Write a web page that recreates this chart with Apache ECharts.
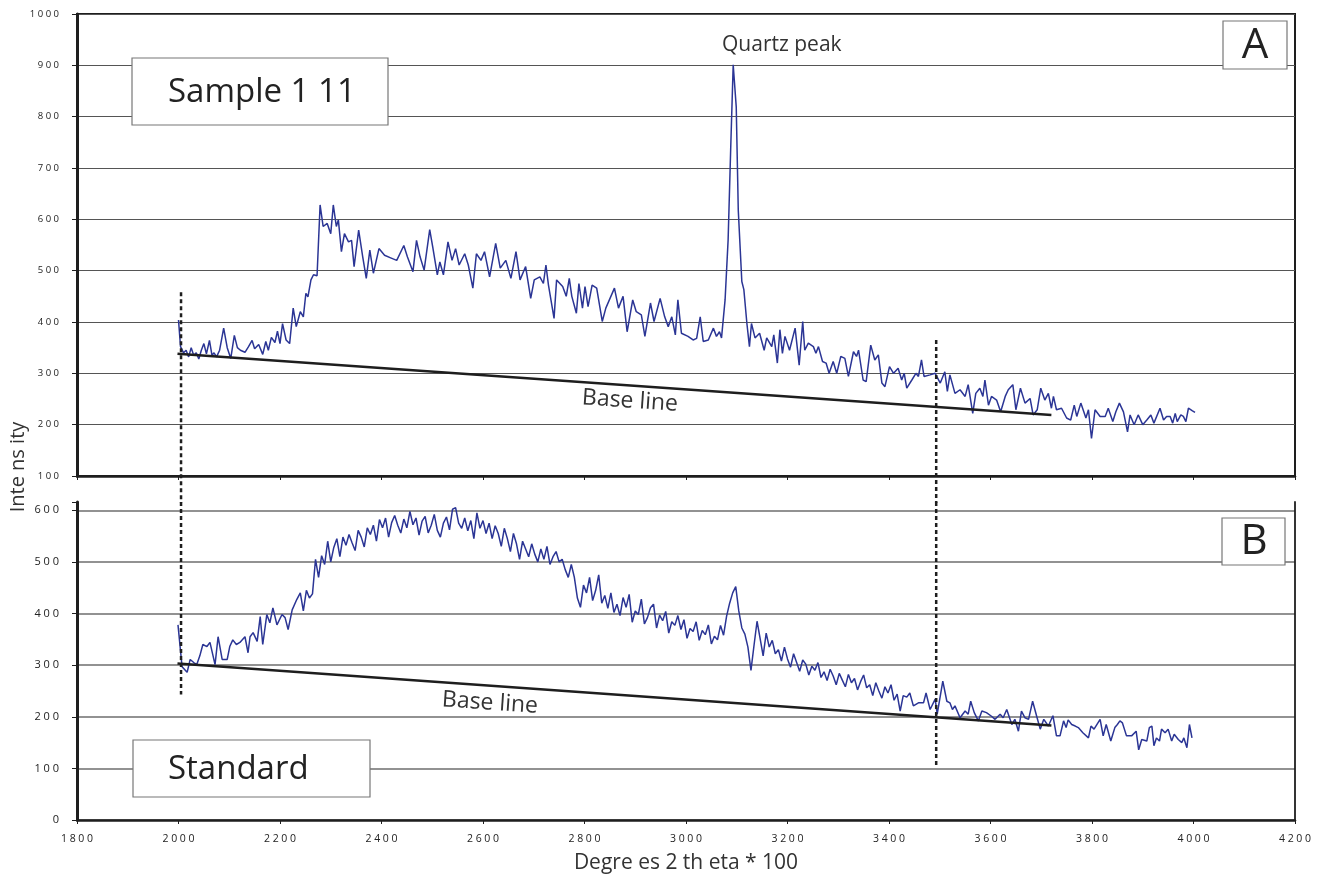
<!DOCTYPE html>
<html><head><meta charset="utf-8">
<script src="https://cdn.jsdelivr.net/npm/echarts@6/dist/echarts.min.js"></script>
<style>html,body{margin:0;padding:0;background:#fff}#c{width:1320px;height:875px}</style>
</head><body><div id="c"></div><script>
// ---- Data ----
const sampleX = [2000,2004,2010,2015,2020,2025,2030,2035,2040,2045,2050,2055,2061,2066,2070,2075,2081,2089,2096,2103,2110,2116,2122,2131,2138,2145,2150,2158,2166,2172,2177,2183,2190,2195,2200,2205,2212,2219,2226,2232,2240,2246,2251,2255,2261,2266,2273,2279,2285,2293,2300,2305,2311,2315,2321,2327,2335,2341,2346,2355,2363,2370,2377,2384,2395,2406,2418,2430,2444,2451,2462,2469,2476,2484,2495,2501,2510,2515,2522,2531,2539,2546,2553,2564,2571,2580,2587,2596,2603,2613,2625,2634,2645,2655,2665,2673,2684,2694,2701,2712,2719,2724,2729,2740,2745,2757,2764,2770,2775,2784,2789,2796,2801,2807,2815,2824,2835,2842,2859,2867,2876,2884,2895,2902,2912,2919,2930,2937,2949,2958,2965,2972,2979,2984,2991,3004,3014,3021,3028,3034,3044,3054,3060,3066,3070,3077,3083,3088,3093,3099,3103,3110,3114,3120,3125,3129,3136,3145,3154,3159,3169,3173,3180,3185,3190,3195,3204,3215,3223,3230,3234,3241,3251,3256,3261,3269,3276,3282,3290,3297,3305,3313,3320,3330,3336,3340,3349,3355,3364,3372,3379,3386,3392,3401,3409,3418,3425,3430,3435,3445,3453,3458,3464,3469,3481,3491,3501,3510,3515,3520,3530,3540,3550,3556,3565,3571,3579,3585,3589,3596,3602,3612,3620,3629,3635,3644,3650,3659,3668,3678,3684,3692,3699,3707,3714,3720,3724,3730,3740,3750,3758,3765,3770,3778,3788,3793,3799,3806,3816,3826,3832,3841,3847,3854,3862,3870,3875,3883,3891,3900,3908,3916,3922,3934,3941,3947,3954,3959,3964,3968,3975,3980,3985,3990,3998,4003];
const sampleY = [404,352,340,345,332,350,335,340,328,345,358,338,364,335,340,332,345,388,350,329,374,350,345,341,352,364,348,356,337,362,345,370,360,382,358,397,365,358,427,391,420,410,456,449,482,492,490,628,586,592,572,628,586,599,537,572,556,559,508,579,527,485,540,495,543,530,525,520,549,527,498,559,527,501,580,546,492,517,492,556,520,543,511,533,511,466,533,520,537,488,553,505,520,485,537,482,508,446,482,488,475,511,472,407,482,469,450,485,450,417,475,427,469,430,472,466,401,427,466,427,450,381,443,420,414,372,437,401,446,410,391,410,375,443,378,372,365,368,410,362,365,388,372,381,369,443,560,735,901,819,618,479,463,397,352,397,369,378,345,369,352,375,320,385,339,372,345,388,316,401,345,359,352,339,352,323,320,300,323,300,333,329,294,342,333,345,287,284,355,326,336,281,274,313,300,310,287,300,271,287,300,294,326,294,297,300,281,303,265,297,261,268,255,278,222,261,271,255,287,238,255,248,225,255,268,278,229,271,242,251,219,229,271,248,261,232,255,229,232,213,209,238,216,242,213,229,173,229,216,216,232,206,225,242,225,186,219,200,219,200,209,219,203,232,209,216,216,203,222,206,219,216,206,232,227,224];

const standardX = [1999,2007,2017,2023,2030,2036,2042,2048,2056,2062,2072,2078,2086,2096,2101,2107,2114,2121,2131,2137,2141,2147,2155,2161,2166,2174,2180,2186,2194,2204,2210,2216,2224,2233,
2240,2246,2252,2258,2264,2270,2276,2282,2288,2294,
2300,2306,2312,2318,2324,2330,2336,2342,2348,2354,
2360,2366,2372,2378,2384,2390,2396,2402,2408,2414,
2420,2426,2432,2438,2444,2450,2456,2462,2468,2474,
2480,2486,2492,2498,2504,2510,2516,2522,2528,2534,
2540,2546,2552,2558,2564,2570,2576,2582,2588,2594,
2600,2606,2612,2618,2624,2630,2636,2642,2648,2654,
2660,2666,2672,2678,2684,2690,2696,2702,2708,2714,
2720,2726,2732,2738,2744,2750,2756,2762,2768,2774,
2780,2786,2792,2798,2804,2810,2816,2822,2828,2834,
2840,2846,2852,2858,2864,2870,2876,2882,2888,2894,
2900,2906,2912,2918,2924,2930,2936,2942,2948,2954,
2960,2966,2972,2978,2984,2990,2996,3002,3008,3014,
3020,3026,3032,3038,3044,3050,3056,3062,3068,3074,
3080,3086,3092,3098,3104,3110,3116,3122,3128,3134,
3140,3146,3152,3158,3164,3170,3176,3182,3188,3194,
3200,3206,3212,3218,3224,3230,3236,3242,3248,3254,
3260,3266,3272,3278,3284,3290,3296,3302,3308,3314,
3320,3326,3332,3338,3344,3350,3356,3362,3368,3374,
3380,3386,3392,3398,3404,3410,3416,
3422,3428,3435,3441,3448,3458,3468,3473,3481,3491,3495,3506,3514,3520,3525,3530,3540,3550,3556,3561,3568,3576,3583,3592,3602,3609,3619,3625,3632,3642,3648,3655,3661,3668,3675,3683,3691,3698,3705,3714,3723,3730,3737,3744,3749,3753,3760,3767,3773,3782,3793,3798,3804,3816,3822,3828,3837,3845,3850,3855,3860,3868,3878,3887,3892,3898,3908,3913,3918,3922,3927,3933,3937,3944,3950,3957,3962,3970,3977,3981,3987,3992,3997];
const standardY = [378,297,286,311,305,301,318,340,336,344,301,355,311,311,336,349,340,344,355,324,355,363,346,394,340,398,382,411,378,398,392,369,407,427,
440,405,445,430,438,505,470,512,495,540,
500,528,545,510,548,532,553,537,522,561,
548,529,566,553,571,540,582,566,585,548,
576,590,571,556,583,566,598,572,585,552,
579,588,556,571,592,561,548,575,587,562,
602,605,575,565,585,560,580,545,595,565,
580,555,575,545,570,555,530,565,545,520,
555,535,505,540,525,510,535,515,500,525,
505,530,495,510,520,500,505,485,470,495,
470,430,412,455,440,470,425,445,475,420,
435,410,440,402,418,396,431,412,437,383,
405,398,428,380,392,411,418,372,397,386,
404,362,384,377,396,369,388,352,371,365,
384,348,367,359,378,341,356,349,377,358,
395,420,440,452,405,372,360,335,290,338,
385,352,318,362,335,348,322,330,308,335,
312,296,322,305,288,310,302,281,298,290,
305,276,287,270,292,279,262,284,271,258,
282,266,274,252,268,281,256,262,241,266,
250,236,258,246,262,232,244,
211,241,238,246,221,227,227,246,214,234,205,269,230,227,214,221,198,211,205,230,208,192,211,208,201,195,205,198,214,185,195,172,211,198,195,230,201,176,195,182,202,163,163,192,179,194,185,182,179,169,159,182,176,195,163,185,153,179,185,192,188,163,163,172,136,156,153,179,182,144,159,153,176,169,176,153,166,156,150,159,140,185,159];

const baseTopX = [1998, 3720];
const baseTopY = [338, 219];
const baseBotX = [1998, 3720];
const baseBotY = [303, 183];

const markerX = [2005, 3493];
const markerTopY = [[458, 48], [365, 48]];
const markerBotY = [[616, 243], [616, 104]];

const xTickMin = 1800, xTickMax = 4200, xTickStep = 200;
const topYMin = 100, topYMax = 1000, bottomYMin = 0, bottomYMax = 616, yStep = 100;

const labelsText = {
  sample: 'Sample 1 11', standard: 'Standard', a: 'A', b: 'B',
  quartz: 'Quartz peak', base: 'Base line',
  yTitle: 'Inte ns ity', xTitle: 'Degre es 2 th eta * 100'
};

// ---- Build ----
const zip = (xs, ys) => xs.map((x, i) => [x, ys[i]]);
const FONT = "'Open Sans','Noto Sans',sans-serif";
const spaced = v => String(v).split('').join(' ');
const blue = '#2b3595';
const ink = '#1e1e1e';

function dashSeries(xi, yi, x, ys) {
  return {
    type: 'line', xAxisIndex: xi, yAxisIndex: yi, data: [[x, ys[0]], [x, ys[1]]],
    showSymbol: false, symbol: 'none', clip: false, silent: true, z: 4,
    lineStyle: { color: ink, width: 2.5, type: [4, 3] }
  };
}

const bottomSplitColors = [];
for (let v = bottomYMin; v <= 600; v += yStep) bottomSplitColors.push('#6e6e6e');
bottomSplitColors.push('rgba(0,0,0,0)');

const chart = echarts.init(document.getElementById('c'), null, { renderer: 'canvas' });
const option = {
  animation: false,
  backgroundColor: '#fff',
  textStyle: { fontFamily: FONT },
  grid: [
    { left: 77, top: 14, width: 1218, height: 462, show: true, borderColor: ink, borderWidth: 2, backgroundColor: 'rgba(0,0,0,0)' },
    { left: 77, top: 502, width: 1218, height: 319 }
  ],
  xAxis: [
    { gridIndex: 0, type: 'value', min: xTickMin, max: xTickMax, interval: xTickStep,
      axisLine: { show: true, lineStyle: { color: ink, width: 2.5 } },
      axisTick: { show: true, length: 4, lineStyle: { color: ink, width: 1 } },
      axisLabel: { show: false }, splitLine: { show: false } },
    { gridIndex: 1, type: 'value', min: xTickMin, max: xTickMax, interval: xTickStep,
      axisLine: { show: true, lineStyle: { color: ink, width: 2.5 } },
      axisTick: { show: true, length: 4, lineStyle: { color: ink, width: 1 } },
      axisLabel: { formatter: spaced, fontSize: 10.5, color: '#222', margin: 14, fontFamily: FONT },
      splitLine: { show: false },
      name: labelsText.xTitle, nameLocation: 'middle', nameGap: 33,
      nameTextStyle: { fontSize: 21, color: '#333', fontFamily: FONT } }
  ],
  yAxis: [
    { gridIndex: 0, type: 'value', min: topYMin, max: topYMax, interval: yStep,
      axisLine: { show: true, lineStyle: { color: ink, width: 3 } },
      axisTick: { show: true, length: 5, lineStyle: { color: ink } },
      axisLabel: { formatter: spaced, fontSize: 9.5, color: '#222', margin: 18, fontFamily: FONT },
      splitLine: { show: true, lineStyle: { color: '#555', width: 1.2 } } },
    { gridIndex: 1, type: 'value', min: bottomYMin, max: bottomYMax, interval: yStep,
      axisLine: { show: true, lineStyle: { color: ink, width: 3 } },
      axisTick: { show: true, length: 5, lineStyle: { color: ink } },
      axisLabel: { formatter: v => (v % yStep === 0 ? spaced(v) : ''), fontSize: 11, color: '#222', margin: 18, fontFamily: FONT },
      splitLine: { show: true, lineStyle: { color: bottomSplitColors, width: 1.5 } } },
    { gridIndex: 1, type: 'value', position: 'right', min: bottomYMin, max: bottomYMax, interval: yStep,
      axisLine: { show: true, lineStyle: { color: ink, width: 1.8 } },
      axisTick: { show: false }, axisLabel: { show: false }, splitLine: { show: false } }
  ],
  series: [
    { name: 'Sample', type: 'line', xAxisIndex: 0, yAxisIndex: 0, data: zip(sampleX, sampleY),
      showSymbol: false, symbol: 'none', z: 3, lineStyle: { color: blue, width: 1.5 } },
    { name: 'Standard', type: 'line', xAxisIndex: 1, yAxisIndex: 1, data: zip(standardX, standardY),
      showSymbol: false, symbol: 'none', z: 3, lineStyle: { color: blue, width: 1.5 } },
    { name: 'BaseTop', type: 'line', xAxisIndex: 0, yAxisIndex: 0, data: zip(baseTopX, baseTopY),
      showSymbol: false, symbol: 'none', z: 5, lineStyle: { color: ink, width: 2.5 } },
    { name: 'BaseBot', type: 'line', xAxisIndex: 1, yAxisIndex: 1, data: zip(baseBotX, baseBotY),
      showSymbol: false, symbol: 'none', z: 5, lineStyle: { color: ink, width: 2.5 } },
    dashSeries(0, 0, markerX[0], markerTopY[0]),
    dashSeries(0, 0, markerX[1], markerTopY[1]),
    dashSeries(1, 1, markerX[0], markerBotY[0]),
    dashSeries(1, 1, markerX[1], markerBotY[1])
  ],
  graphic: [
    { type: 'rect', shape: { x: 132, y: 58, width: 256, height: 67 }, z: 10,
      style: { fill: '#fff', stroke: '#777', lineWidth: 1.2 } },
    { type: 'text', x: 168, y: 93, z: 11,
      style: { text: labelsText.sample, font: '33px ' + FONT, fill: '#222', textVerticalAlign: 'middle' } },
    { type: 'rect', shape: { x: 133, y: 740, width: 237, height: 57 }, z: 10,
      style: { fill: '#fff', stroke: '#777', lineWidth: 1.2 } },
    { type: 'text', x: 168, y: 770, z: 11,
      style: { text: labelsText.standard, font: '33px ' + FONT, fill: '#222', textVerticalAlign: 'middle' } },
    { type: 'rect', shape: { x: 1223, y: 21, width: 64, height: 48 }, z: 10,
      style: { fill: '#fff', stroke: '#777', lineWidth: 1.2 } },
    { type: 'text', x: 1255, y: 46, z: 11,
      style: { text: labelsText.a, font: '42px ' + FONT, fill: '#222', textAlign: 'center', textVerticalAlign: 'middle' } },
    { type: 'rect', shape: { x: 1222, y: 518, width: 63, height: 47 }, z: 10,
      style: { fill: '#fff', stroke: '#777', lineWidth: 1.2 } },
    { type: 'text', x: 1254, y: 542, z: 11,
      style: { text: labelsText.b, font: '42px ' + FONT, fill: '#222', textAlign: 'center', textVerticalAlign: 'middle' } },
    { type: 'text', x: 722, y: 45, z: 11,
      style: { text: labelsText.quartz, font: '21px ' + FONT, fill: '#333', textVerticalAlign: 'middle' } },
    { type: 'text', x: 630, y: 401, rotation: -0.068, z: 11,
      style: { text: labelsText.base, font: '23px ' + FONT, fill: '#333', textAlign: 'center', textVerticalAlign: 'middle' } },
    { type: 'text', x: 490, y: 703, rotation: -0.068, z: 11,
      style: { text: labelsText.base, font: '23px ' + FONT, fill: '#333', textAlign: 'center', textVerticalAlign: 'middle' } },
    { type: 'text', x: 18, y: 467, rotation: Math.PI / 2, z: 11,
      style: { text: labelsText.yTitle, font: '20px ' + FONT, fill: '#333', textAlign: 'center', textVerticalAlign: 'middle' } }
  ]
};
chart.setOption(option);
</script></body></html>
